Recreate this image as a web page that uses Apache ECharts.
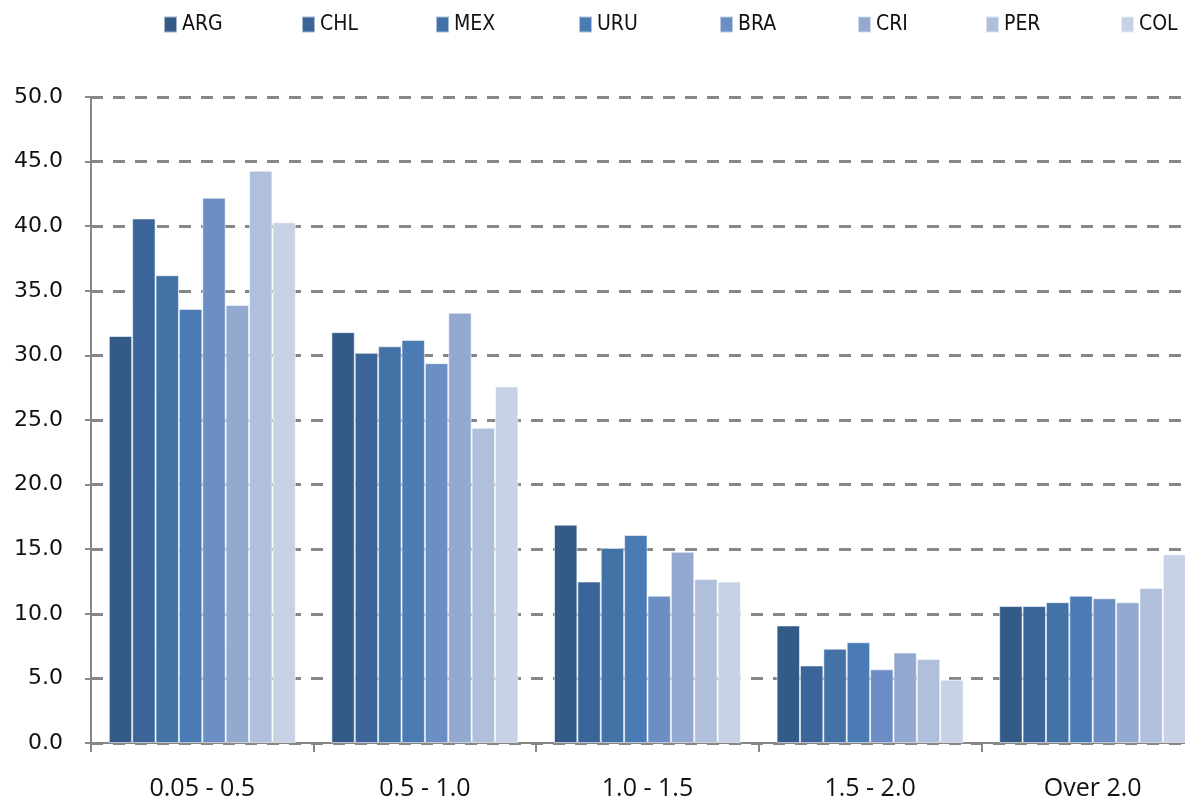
<!DOCTYPE html>
<html>
<head>
<meta charset="utf-8">
<script src="https://cdn.jsdelivr.net/npm/echarts@6/dist/echarts.min.js"></script>
<style>
  html, body { margin: 0; padding: 0; background: #ffffff; overflow: hidden; }
  /* plot area runs slightly past the right edge of the window */
  #chart { width: 1210px; height: 802px; }
</style>
</head>
<body>
<div id="chart"></div>
<script>
// Size bands (x axis)
const categories = ['0.05 - 0.5', '0.5 - 1.0', '1.0 - 1.5', '1.5 - 2.0', 'Over 2.0'];

// Share (%) per country in each band
const countries = ['ARG', 'CHL', 'MEX', 'URU', 'BRA', 'CRI', 'PER', 'COL'];
const ARG = [31.5, 31.8, 16.9, 9.1, 10.6];
const CHL = [40.6, 30.2, 12.5, 6.0, 10.6];
const MEX = [36.2, 30.7, 15.1, 7.3, 10.9];
const URU = [33.6, 31.2, 16.1, 7.8, 11.4];
const BRA = [42.2, 29.4, 11.4, 5.7, 11.2];
const CRI = [33.9, 33.3, 14.8, 7.0, 10.9];
const PER = [44.3, 24.4, 12.7, 6.5, 12.0];
const COL = [40.3, 27.6, 12.5, 4.9, 14.6];
const seriesValues = [ARG, CHL, MEX, URU, BRA, CRI, PER, COL];

// Y axis ticks
const yMin = 0, yMax = 50, yStep = 5;

const palette = ['#345a87', '#3b6499', '#4372a7', '#4a7bb5', '#6b8fc4', '#94a9d0', '#b0c0dc', '#c8d2e6'];
const gray = '#878787';

// Left offset of each legend entry across the top row
const legendLeft = [163, 301, 435, 578, 719, 857, 985, 1120];

const chart = echarts.init(document.getElementById('chart'), null, { renderer: 'canvas' });

chart.setOption({
  animation: false,
  color: palette,
  legend: countries.map((name, i) => ({
    data: [name],
    left: legendLeft[i],
    top: 14,
    itemWidth: 13,
    itemHeight: 16,
    icon: 'rect',
    padding: 0,
    textStyle: {
      fontFamily: '"Liberation Sans Narrow", "DejaVu Sans Condensed", sans-serif',
      fontSize: 21,
      color: '#111'
    }
  })),
  grid: {
    left: 91,
    width: 1113,
    top: 97,
    bottom: 59,
    containLabel: false
  },
  xAxis: {
    type: 'category',
    data: categories,
    axisLine: { lineStyle: { color: gray, width: 2 } },
    axisTick: { show: true, length: 9, lineStyle: { color: gray, width: 2 } },
    axisLabel: {
      margin: 33,
      fontFamily: '"Open Sans", sans-serif',
      fontSize: 25,
      color: '#111'
    },
    splitLine: { show: false }
  },
  yAxis: {
    type: 'value',
    min: yMin,
    max: yMax,
    interval: yStep,
    axisLine: { show: true, lineStyle: { color: gray, width: 2 } },
    axisTick: { show: true, length: 6, lineStyle: { color: gray, width: 2 } },
    axisLabel: {
      margin: 28,
      fontFamily: '"DejaVu Sans", sans-serif',
      fontSize: 22,
      color: '#111',
      formatter: v => v.toFixed(1)
    },
    splitLine: {
      show: true,
      lineStyle: { color: gray, width: 3, type: [12, 10] }
    }
  },
  series: countries.map((name, i) => ({
    name: name,
    type: 'bar',
    data: seriesValues[i],
    barGap: '0%',
    barCategoryGap: '16%',
    itemStyle: {
      color: palette[i],
      borderColor: 'rgba(255,255,255,0.55)',
      borderWidth: 1
    }
  }))
});
</script>
</body>
</html>
